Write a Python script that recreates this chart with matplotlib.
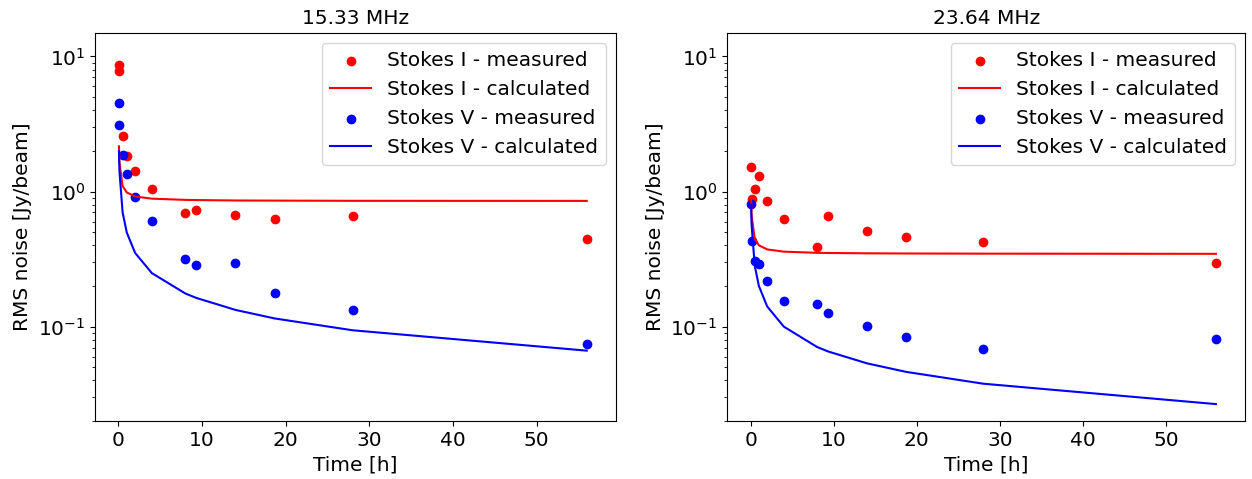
import numpy as np
import matplotlib
matplotlib.use('Agg')
import matplotlib.pyplot as plt

plt.rcParams['font.size'] = 14.5

# observation times [h]
time = [0.0625, 0.125, 0.5, 1, 2, 4, 8, 9.33, 14, 18.67, 28, 56]

# 15.33 MHz
I_meas_15 = [7.87, 8.68, 2.59, 1.82, 1.42, 1.04, 0.69, 0.728, 0.668, 0.624, 0.664, 0.446]
V_meas_15 = [3.10, 4.52, 1.87, 1.36, 0.914, 0.61, 0.316, 0.285, 0.295, 0.177, 0.133, 0.0748]
I_calc_15 = [2.16, 1.64, 1.10, 0.985, 0.92, 0.886, 0.868, 0.865, 0.859, 0.857, 0.854, 0.853]
V_calc_15 = [1.99, 1.41, 0.703, 0.497, 0.351, 0.249, 0.176, 0.163, 0.133, 0.115, 0.094, 0.0664]

# 23.64 MHz
I_meas_23 = [1.52, 0.879, 1.05, 1.30, 0.853, 0.628, 0.392, 0.664, 0.509, 0.462, 0.424, 0.296]
V_meas_23 = [0.811, 0.43, 0.307, 0.29, 0.219, 0.156, 0.148, 0.126, 0.101, 0.0843, 0.0687, 0.0815]
I_calc_23 = [0.87, 0.66, 0.45, 0.40, 0.373, 0.359, 0.352, 0.351, 0.349, 0.348, 0.347, 0.346]
V_calc_23 = [0.80, 0.566, 0.283, 0.20, 0.141, 0.100, 0.0707, 0.0655, 0.0535, 0.0463, 0.0378, 0.0267]

panels = [('15.33 MHz', I_meas_15, I_calc_15, V_meas_15, V_calc_15),
          ('23.64 MHz', I_meas_23, I_calc_23, V_meas_23, V_calc_23)]

fig, axes = plt.subplots(1, 2, figsize=(12.52, 4.79), dpi=100)

for ax, (title, im, ic, vm, vc) in zip(axes, panels):
    ax.scatter(time, im, color='red', label='Stokes I - measured')
    ax.plot(time, ic, color='red', label='Stokes I - calculated')
    ax.scatter(time, vm, color='blue', label='Stokes V - measured')
    ax.plot(time, vc, color='blue', label='Stokes V - calculated')
    ax.set_yscale('log')
    ax.set_ylim(0.02, 15)
    ax.set_xlim(-2.8, 59.5)
    ax.set_title(title, fontsize=14.5)
    ax.set_xlabel('Time [h]')
    ax.set_ylabel('RMS noise [Jy/beam]')
    ax.legend(loc='upper right')

# axes placement in pixels (from the reference)
axes[0].set_position([95/1252, 0.121, (616-95)/1252, 0.9317-0.121])
axes[1].set_position([727.3/1252, 0.121, (1245-727.3)/1252, 0.9317-0.121])

fig.savefig('out.png', dpi=100)
